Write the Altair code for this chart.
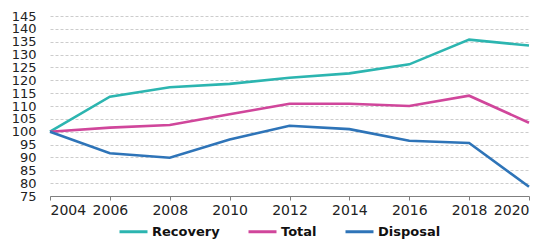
import altair as alt
import pandas as pd

years = [2004, 2006, 2008, 2010, 2012, 2014, 2016, 2018, 2020]
recovery = [100, 113.6, 117.3, 118.6, 121.0, 122.7, 126.2, 135.8, 133.5]
total = [100, 101.6, 102.6, 106.8, 110.9, 110.9, 110.0, 114.0, 103.5]
disposal = [100, 91.6, 89.9, 97.0, 102.3, 101.0, 96.5, 95.6, 78.6]

series = ["Recovery", "Total", "Disposal"]
colors = ["#2cb5b0", "#d0469b", "#2e74b8"]

rows = []
for name, vals in zip(series, [recovery, total, disposal]):
    for y, v in zip(years, vals):
        rows.append({"year": y, "value": v, "series": name})
df = pd.DataFrame(rows)

FONT = "DejaVu Sans"

chart = alt.Chart(df).mark_line(strokeWidth=2.6).encode(
    x=alt.X("year:Q",
            scale=alt.Scale(domain=[2004, 2020], nice=False, zero=False),
            axis=alt.Axis(values=years, format="d", title=None, grid=False,
                          domainColor="#7f7f7f", tickColor="#7f7f7f", tickSize=4,
                          labelFontSize=14, labelColor="#222222", labelPadding=3,
                          labelFont=FONT, labelOverlap=False)),
    y=alt.Y("value:Q",
            scale=alt.Scale(domain=[75, 145], nice=False, zero=False),
            axis=alt.Axis(values=list(range(75, 150, 5)), title=None, domain=False,
                          ticks=False, gridColor="#cccccc", gridDash=[3, 2],
                          labelFontSize=13, labelColor="#222222", labelPadding=14,
                          labelFont=FONT, labelOverlap=False)),
    color=alt.Color("series:N",
                    scale=alt.Scale(domain=series, range=colors),
                    sort=series,
                    legend=alt.Legend(title=None, orient="none", direction="horizontal",
                                      legendX=68, legendY=200, padding=0,
                                      symbolType="stroke", symbolSize=784,
                                      symbolStrokeWidth=3, labelFontSize=13,
                                      labelFontWeight="bold", labelFont=FONT,
                                      labelColor="#111111", labelOffset=3,
                                      columnPadding=22)),
).properties(
    width=479, height=180,
    autosize=alt.AutoSizeParams(type="none"),
    padding={"left": 42, "top": 8, "right": 12, "bottom": 44},
).configure_view(stroke=None)

chart.save("out.html", embed_options={"renderer": "svg", "actions": False})
